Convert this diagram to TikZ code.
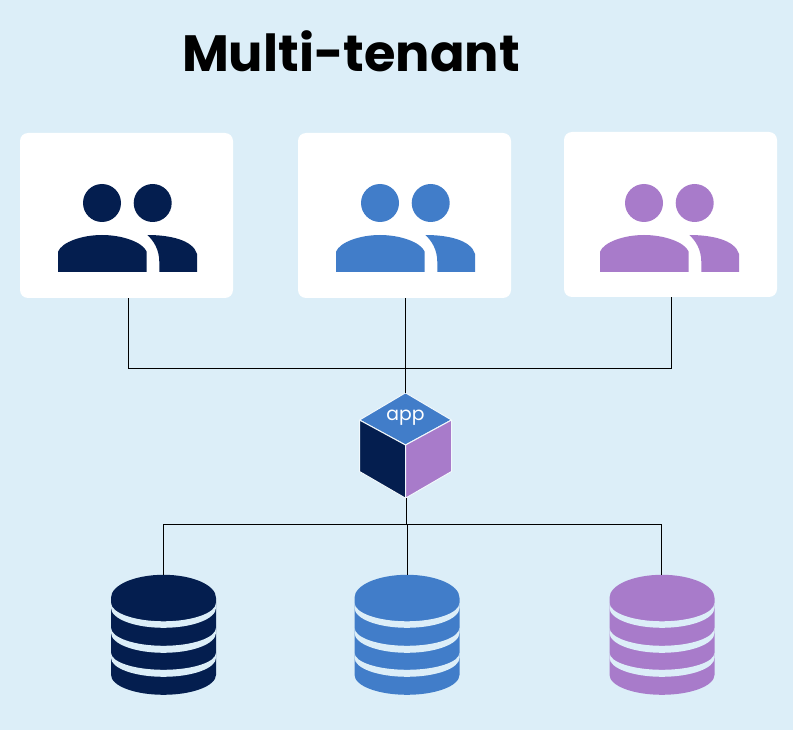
\documentclass[tikz,border=0pt]{standalone}
\usepackage{fontspec}
\setmainfont{Poppins}
\definecolor{pagebg}{HTML}{DCEEF8}
\definecolor{navy}{HTML}{041E4F}
\definecolor{midblue}{HTML}{417DC9}
\definecolor{lilac}{HTML}{A87BCA}
\begin{document}
\begin{tikzpicture}[x=1pt,y=-1pt,
    card/.style={fill=white,rounded corners=8pt,minimum width=213pt,minimum height=165pt,inner sep=0pt},
    slot/.style={inner sep=0pt,minimum width=#1},
    link/.style={draw=black,line width=0.9pt},
    facet/.style={draw=pagebg!40!white,line width=1pt,line join=round},
    pics/people/.style={code={
      \path[pic actions] (44,19) circle (19);
      \path[pic actions] (94.7,19) circle (19);
      \path[pic actions] (0,88) -- (0,67.7) .. controls (4,58) and (24,51) .. (44,51)
        .. controls (64,51) and (84.7,58) .. (88.7,67.7) -- (88.7,88) -- cycle;
      \path[pic actions] (89.3,51) .. controls (112,51) and (135,56) .. (139,70) -- (139,88)
        -- (101.3,88) -- (101.3,78) .. controls (101.3,66) and (96,57) .. (89.3,51) -- cycle;
    }},
    pics/dbstack/.style={code={
      \path[pic actions] (-52.5,23) arc (180:360:52.5 and 23) -- (52.5,100)
        arc (0:180:52.5 and 20) -- cycle;
      \foreach \ytop/\yrad/\ylow/\ylowrad in {28/18.5/33/20,53/18/58/20,78/17/83/19}
        \fill[pagebg] (-52.5,\ytop) arc (180:0:52.5 and \yrad) -- (52.5,\ylow)
          arc (0:180:52.5 and \ylowrad) -- cycle;
    }}]
  \useasboundingbox (0,0) rectangle (793,730);
  \fill[pagebg] (0,0) rectangle (793,730);

  \node[font=\fontsize{51}{54}\selectfont\bfseries,inner sep=0pt] (title) at (351,51.5) {Multi-tenant};

  \node[card] (card1) at (126.5,215.5) {};
  \node[card] (card2) at (404.5,215.5) {};
  \node[card] (card3) at (670.5,214.5) {};
  \pic[fill=navy] (people1) at (58,184) {people};
  \pic[fill=midblue] (people2) at (336,184) {people};
  \pic[fill=lilac] (people3) at (600,184) {people};

  % cube
  \node[slot=92pt,minimum height=105pt] (app) at (405.5,445.5) {};
  \filldraw[facet,fill=midblue] (app.north) -- (451.5,420) -- (405.5,445) -- (359.5,420) -- cycle;
  \filldraw[facet,fill=navy] (359.5,420) -- (405.5,445) -- (app.south) -- (359.5,471.5) -- cycle;
  \filldraw[facet,fill=lilac] (451.5,420) -- (405.5,445) -- (app.south) -- (451.5,471.5) -- cycle;
  \node[text=white,font=\fontsize{18.8}{20}\selectfont,inner sep=0pt] (applabel) at (405.5,417.5) {app};

  \node[slot=105pt,minimum height=120pt] (db1) at (163.5,635) {};
  \node[slot=105pt,minimum height=120pt] (db2) at (407,635) {};
  \node[slot=105pt,minimum height=120pt] (db3) at (662,635) {};
  \pic[fill=navy] (stack1) at (db1.north) {dbstack};
  \pic[fill=midblue] (stack2) at (db2.north) {dbstack};
  \pic[fill=lilac] (stack3) at (db3.north) {dbstack};

  \coordinate (hubtop) at (405.5,368);
  \coordinate (hubbottom) at (406.5,524);

  \draw[link] ([xshift=1.5pt]card1.south) |- (hubtop);
  \draw[link] ([xshift=0.5pt]card3.south) |- (hubtop);
  \draw[link] ([xshift=1pt]card2.south) -- (app.north);
  \draw[link] ([xshift=1pt]app.south) -- (hubbottom);
  \draw[link] ([xshift=-0.5pt]db1.north) |- (hubbottom);
  \draw[link] (db2.north) |- (hubbottom);
  \draw[link] ([xshift=-1pt]db3.north) |- (hubbottom);
\end{tikzpicture}
\end{document}
